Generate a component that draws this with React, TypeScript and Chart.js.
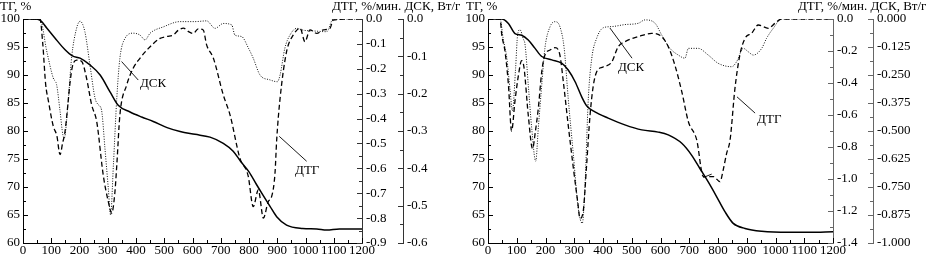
import React, { useEffect, useRef } from 'react';
import { Chart, registerables } from 'chart.js';

Chart.register(...registerables);

const FONT = '"Liberation Serif", "Times New Roman", serif';

// ---------- Left panel data ----------
const L_TG_T = [0, 40, 60, 84, 113, 149, 175, 202, 237, 273, 308, 337, 379, 420, 461, 510, 556, 609, 662, 709, 744, 770, 800, 827, 850, 875, 898, 933, 990, 1040, 1075, 1120, 1200];
const L_TG_V = [100, 100, 99.8, 98.4, 96.6, 94.5, 93.4, 93.0, 91.8, 90.0, 87.0, 84.6, 83.4, 82.5, 81.7, 80.6, 79.9, 79.4, 78.9, 77.8, 76.4, 74.6, 72.7, 70.4, 68.5, 66.5, 64.7, 63.2, 62.6, 62.5, 62.3, 62.5, 62.5];

const L_DTG_T = [0, 60, 70, 80, 90, 107, 120, 131, 140, 149, 160, 166, 175, 190, 208, 225, 243, 261, 284, 302, 314, 325, 332, 343, 367, 390, 414, 444, 485, 510, 532, 550, 568, 585, 603, 620, 638, 650, 674, 709, 733, 768, 797, 815, 833, 851, 868, 880, 892, 898, 910, 933, 957, 981, 998, 1016, 1040, 1063, 1087, 1098, 1200];
const L_DTG_V = [0, 0, -0.1, -0.26, -0.33, -0.43, -0.47, -0.545, -0.5, -0.45, -0.33, -0.26, -0.19, -0.165, -0.171, -0.238, -0.345, -0.413, -0.627, -0.734, -0.78, -0.7, -0.587, -0.386, -0.265, -0.198, -0.158, -0.118, -0.078, -0.07, -0.064, -0.045, -0.037, -0.05, -0.058, -0.04, -0.044, -0.104, -0.158, -0.305, -0.386, -0.56, -0.63, -0.754, -0.687, -0.8, -0.734, -0.714, -0.62, -0.486, -0.319, -0.131, -0.064, -0.037, -0.091, -0.044, -0.058, -0.044, -0.037, -0.004, 0];

const L_DSC_T = [0, 60, 84, 107, 119, 131, 141, 146, 160, 172, 190, 202, 219, 237, 255, 267, 278, 290, 302, 310, 320, 332, 343, 361, 390, 414, 432, 450, 497, 556, 609, 650, 680, 709, 739, 750, 774, 798, 815, 839, 874, 900, 910, 927, 945, 969, 992, 1028, 1075, 1098, 1200];
const L_DSC_V = [0, 0, -0.086, -0.158, -0.176, -0.246, -0.31, -0.319, -0.22, -0.104, -0.024, -0.006, -0.034, -0.123, -0.212, -0.230, -0.244, -0.346, -0.454, -0.525, -0.391, -0.212, -0.105, -0.052, -0.038, -0.043, -0.056, -0.038, -0.021, -0.007, -0.007, -0.005, -0.025, -0.012, -0.016, -0.043, -0.047, -0.078, -0.105, -0.150, -0.163, -0.168, -0.150, -0.078, -0.043, -0.025, -0.03, -0.032, -0.034, 0, 0];

// ---------- Right panel data ----------
const R_TG_T = [0, 48, 71, 94, 117, 140, 163, 187, 222, 256, 279, 303, 326, 343, 372, 418, 476, 535, 592, 627, 674, 708, 737, 766, 795, 824, 853, 894, 952, 1044, 1120, 1200];
const R_TG_V = [100, 100, 99.2, 97.4, 97.1, 96.25, 94.8, 93.3, 92.7, 92.1, 90.9, 88.8, 86.1, 84.5, 83.4, 82.3, 81.1, 80.2, 79.8, 79.3, 77.8, 75.7, 73.3, 70.9, 68.3, 65.6, 63.5, 62.6, 62.1, 61.9, 61.9, 62.0];

const R_DTG_T = [0, 42, 48, 59, 71, 82, 94, 106, 117, 125, 140, 155, 165, 175, 187, 198, 216, 233, 250, 262, 279, 297, 312, 320, 331, 343, 355, 366, 378, 400, 430, 453, 476, 523, 569, 604, 627, 650, 674, 697, 726, 749, 784, 807, 818, 830, 842, 859, 876, 894, 917, 940, 975, 998, 1021, 1200];
const R_DTG_V = [0, 0, -0.1, -0.2, -0.41, -0.7, -0.51, -0.35, -0.26, -0.3, -0.6, -0.81, -0.7, -0.558, -0.329, -0.225, -0.194, -0.179, -0.225, -0.392, -0.663, -0.933, -1.142, -1.246, -1.204, -0.913, -0.6, -0.42, -0.33, -0.3, -0.27, -0.173, -0.142, -0.11, -0.09, -0.11, -0.173, -0.288, -0.454, -0.642, -0.756, -0.985, -0.985, -1.017, -0.944, -0.84, -0.756, -0.433, -0.225, -0.121, -0.089, -0.0375, -0.058, -0.027, 0, 0];

const R_DSC_T = [0, 42, 53, 65, 77, 85, 96, 103, 111, 123, 129, 140, 152, 166, 175, 187, 198, 216, 233, 250, 265, 279, 297, 314, 328, 337, 349, 361, 378, 401, 430, 476, 523, 546, 581, 604, 633, 662, 685, 697, 731, 766, 801, 848, 865, 888, 905, 923, 952, 969, 992, 1021, 1200];
const R_DSC_V = [0, 0, -0.09, -0.17, -0.32, -0.41, -0.22, -0.07, -0.048, -0.09, -0.115, -0.293, -0.487, -0.635, -0.487, -0.293, -0.13, -0.034, -0.012, -0.034, -0.131, -0.354, -0.607, -0.845, -0.912, -0.756, -0.354, -0.175, -0.086, -0.039, -0.034, -0.025, -0.019, -0.004, -0.019, -0.071, -0.131, -0.161, -0.175, -0.131, -0.131, -0.161, -0.198, -0.213, -0.19, -0.131, -0.146, -0.161, -0.131, -0.086, -0.042, 0, 0];

// ---------- Annotations (temperature, TG %) ----------
const L_LABELS = [{ text: 'ДСК', t: 414, v: 88.4 }, { text: 'ДТГ', t: 963, v: 73.0 }];
const L_LEADERS = [[349, 92.4, 408, 89.1], [907, 79.05, 1004, 74.6]];
const R_LABELS = [{ text: 'ДСК', t: 452, v: 91.4 }, { text: 'ДТГ', t: 936, v: 82.1 }];
const R_LEADERS = [[424, 98.4, 501, 93.0], [866, 86.1, 929, 83.2], [749, 71.7, 778, 72.3]];

const HEAD_TG = 'ТГ, %';
const HEAD_RIGHT = 'ДТГ, %/мин. ДСК, Вт/г';

function pts(t: number[], v: number[]) {
  return t.map((x, i) => ({ x, y: v[i] }));
}

function fmt(v: number, d: number) {
  return Math.abs(v) < 1e-9 ? (0).toFixed(d) : v.toFixed(d);
}

function labelEvery(step: number, d: number) {
  return (value: any) => {
    const v = Number(value);
    const k = v / step;
    return Math.abs(k - Math.round(k)) < 1e-6 ? fmt(v, d) : '';
  };
}

const tickPlugin = {
  id: 'inTicks',
  afterDraw(chart: any) {
    const { ctx, chartArea: ca } = chart;
    ctx.save();
    ctx.lineWidth = 1;
    Object.keys(chart.scales).forEach((id) => {
      const s = chart.scales[id];
      ctx.strokeStyle = s.options.border.color;
      s.ticks.forEach((t: any) => {
        const len = t.label !== '' ? 5 : 3;
        ctx.beginPath();
        if (id === 'x') {
          const p = Math.round(s.getPixelForValue(t.value)) + 0.5;
          ctx.moveTo(p, ca.bottom);
          ctx.lineTo(p, ca.bottom - len);
        } else if (id === 'yTG') {
          const p = Math.round(s.getPixelForValue(t.value)) + 0.5;
          ctx.moveTo(ca.left, p);
          ctx.lineTo(ca.left + len, p);
        } else {
          const p = Math.round(s.getPixelForValue(t.value)) + 0.5;
          const x0 = Math.round(s.left);
          ctx.moveTo(x0, p);
          ctx.lineTo(x0 - len, p);
        }
        ctx.stroke();
      });
    });
    ctx.restore();
  },
};

const annotPlugin = {
  id: 'annot',
  afterDatasetsDraw(chart: any, _args: any, opts: any) {
    const { ctx } = chart;
    const xs = chart.scales.x;
    const ys = chart.scales.yTG;
    ctx.save();
    ctx.strokeStyle = '#000';
    ctx.lineWidth = 0.9;
    (opts.lines || []).forEach((l: number[]) => {
      ctx.beginPath();
      ctx.moveTo(xs.getPixelForValue(l[0]), ys.getPixelForValue(l[1]));
      ctx.lineTo(xs.getPixelForValue(l[2]), ys.getPixelForValue(l[3]));
      ctx.stroke();
    });
    ctx.fillStyle = '#000';
    ctx.font = `13px ${FONT}`;
    ctx.textAlign = 'left';
    ctx.textBaseline = 'middle';
    (opts.labels || []).forEach((l: any) => {
      ctx.fillText(l.text, xs.getPixelForValue(l.t), ys.getPixelForValue(l.v));
    });
    ctx.restore();
  },
};

type Spec = {
  left: number;
  width: number;
  tg: [number[], number[]];
  dtg: [number[], number[]];
  dsc: [number[], number[]];
  dtgMin: number; dtgStep: number; dtgMinor: number; dtgDec: number; dtgW: number;
  dscMin: number; dscStep: number; dscMinor: number; dscDec: number; dscW: number;
  axisColor: string;
  labels: any[];
  lines: number[][];
};

const SPECS: Spec[] = [
  {
    left: 0, width: 465,
    tg: [L_TG_T, L_TG_V], dtg: [L_DTG_T, L_DTG_V], dsc: [L_DSC_T, L_DSC_V],
    dtgMin: -0.9, dtgStep: 0.1, dtgMinor: 0.05, dtgDec: 1, dtgW: 41,
    dscMin: -0.6, dscStep: 0.1, dscMinor: 0.05, dscDec: 1, dscW: 62,
    axisColor: '#333', labels: L_LABELS, lines: L_LEADERS,
  },
  {
    left: 465, width: 470,
    tg: [R_TG_T, R_TG_V], dtg: [R_DTG_T, R_DTG_V], dsc: [R_DSC_T, R_DSC_V],
    dtgMin: -1.4, dtgStep: 0.2, dtgMinor: 0.1, dtgDec: 1, dtgW: 40,
    dscMin: -1.0, dscStep: 0.125, dscMinor: 0.0625, dscDec: 3, dscW: 62,
    axisColor: '#666', labels: R_LABELS, lines: R_LEADERS,
  },
];

function Panel({ spec }: { spec: Spec }) {
  const ref = useRef<HTMLCanvasElement>(null);
  useEffect(() => {
    const font = { family: FONT, size: 13 };
    const lineBase = { pointRadius: 0, fill: false, cubicInterpolationMode: 'monotone' as const };
    const chart = new Chart(ref.current as HTMLCanvasElement, {
      type: 'line',
      data: {
        datasets: [
          { ...lineBase, data: pts(spec.tg[0], spec.tg[1]), yAxisID: 'yTG', borderColor: '#000', borderWidth: 1.5 },
          { ...lineBase, data: pts(spec.dtg[0], spec.dtg[1]), yAxisID: 'yDTG', borderColor: '#000', borderWidth: 1.3, borderDash: [5, 3] },
          { ...lineBase, data: pts(spec.dsc[0], spec.dsc[1]), yAxisID: 'yDSC', borderColor: '#111', borderWidth: 1, borderDash: [1, 1.5] },
        ],
      } as any,
      options: {
        animation: false,
        responsive: false,
        maintainAspectRatio: false,
        layout: { padding: { top: 19, left: 0, right: 0, bottom: 0 } },
        plugins: {
          legend: { display: false },
          tooltip: { enabled: false },
          annot: { labels: spec.labels, lines: spec.lines },
        } as any,
        scales: {
          x: {
            type: 'linear', min: 0, max: 1200,
            afterFit: (s: any) => { s.height = 15; },
            ticks: { stepSize: 50, autoSkip: false, maxRotation: 0, minRotation: 0, padding: 0, color: '#000', font, callback: labelEvery(100, 0) },
            grid: { display: false, drawTicks: false },
            border: { display: true, color: '#000', width: 1 },
          },
          yTG: {
            type: 'linear', position: 'left', min: 60, max: 100,
            afterFit: (s: any) => { s.width = 23; },
            ticks: { stepSize: 2.5, autoSkip: false, padding: 3, color: '#000', font, callback: labelEvery(5, 0) },
            grid: { display: false, drawTicks: false },
            border: { display: true, color: '#000', width: 1 },
          },
          yDTG: {
            type: 'linear', position: 'right', weight: 1, min: spec.dtgMin, max: 0,
            afterFit: (s: any) => { s.width = spec.dtgW; },
            ticks: { stepSize: spec.dtgMinor, autoSkip: false, padding: 4, color: '#000', font, callback: labelEvery(spec.dtgStep, spec.dtgDec) },
            grid: { display: false, drawTicks: false },
            border: { display: true, color: spec.axisColor, width: 1 },
          },
          yDSC: {
            type: 'linear', position: 'right', weight: 2, min: spec.dscMin, max: 0,
            afterFit: (s: any) => { s.width = spec.dscW; },
            ticks: { stepSize: spec.dscMinor, autoSkip: false, padding: 4, color: '#000', font, callback: labelEvery(spec.dscStep, spec.dscDec) },
            grid: { display: false, drawTicks: false },
            border: { display: true, color: spec.axisColor, width: 1 },
          },
        } as any,
      },
      plugins: [tickPlugin, annotPlugin] as any,
    });
    return () => chart.destroy();
  }, [spec]);
  return (
    <canvas
      ref={ref}
      width={spec.width}
      height={258}
      style={{ position: 'absolute', left: spec.left, top: 0, width: spec.width, height: 258 }}
    />
  );
}

const headStyle: React.CSSProperties = {
  position: 'absolute',
  top: -1,
  fontFamily: FONT,
  fontSize: 13,
  lineHeight: '13px',
  whiteSpace: 'nowrap',
  color: '#000',
};

export default function App() {
  return (
    <div style={{ position: 'absolute', left: 0, top: 0, width: 935, height: 258, background: '#fff', overflow: 'hidden' }}>
      {SPECS.map((s, i) => (
        <Panel key={i} spec={s} />
      ))}
      <div style={{ ...headStyle, left: 0 }}>{HEAD_TG}</div>
      <div style={{ ...headStyle, left: 332 }}>{HEAD_RIGHT}</div>
      <div style={{ ...headStyle, left: 466 }}>{HEAD_TG}</div>
      <div style={{ ...headStyle, left: 798 }}>{HEAD_RIGHT}</div>
    </div>
  );
}
